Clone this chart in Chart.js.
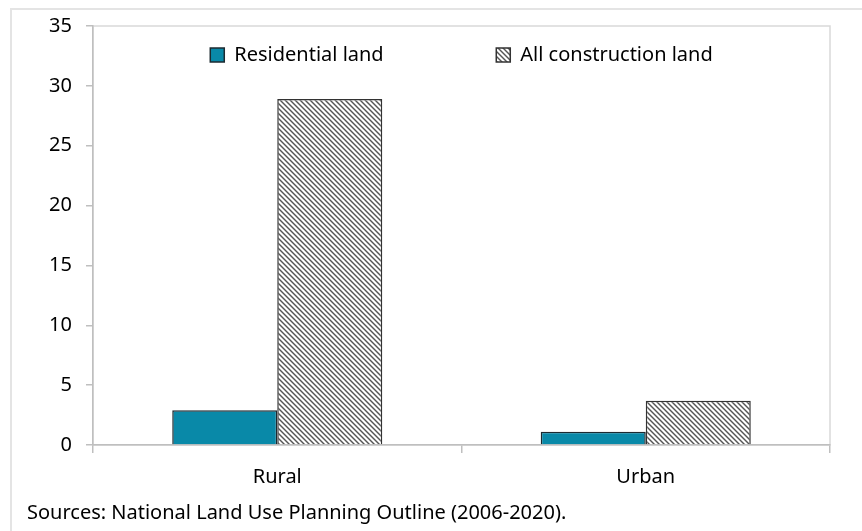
<!DOCTYPE html>
<html>
<head>
<meta charset="utf-8">
<script src="https://cdn.jsdelivr.net/npm/chart.js@4.4.0/dist/chart.umd.min.js"></script>
<style>
  body { margin: 0; background: #fff; }
  #wrap { position: relative; width: 862px; height: 531px; overflow: hidden; }
  #frame { position: absolute; left: 10px; top: 8px; width: 900px; height: 600px;
           border: 2px solid #e4e4e4; box-sizing: border-box; }
  canvas { position: absolute; left: 0; top: 0; }
</style>
</head>
<body>
<div id="wrap">
  <div id="frame"></div>
  <canvas id="chart" width="862" height="531"></canvas>
</div>
<script>
// data
const categories = ['Rural', 'Urban'];
const residential = [2.9, 1.1];
const allConstruction = [28.9, 3.7];
const yTicks = [0, 5, 10, 15, 20, 25, 30, 35];
const seriesNames = ['Residential land', 'All construction land'];
const sourceNote = 'Sources: National Land Use Planning Outline (2006-2020).';

// diagonal hatch for the second series
function makeHatch() {
  const s = 5;
  const c = document.createElement('canvas');
  c.width = s; c.height = s;
  const g = c.getContext('2d');
  g.fillStyle = '#fff';
  g.fillRect(0, 0, s, s);
  g.strokeStyle = '#555';
  g.lineWidth = 1.4;
  for (let k = -1; k <= 1; k++) {
    g.beginPath();
    g.moveTo(-1, k * s - 1);
    g.lineTo(s + 1, s + k * s + 1);
    g.stroke();
  }
  return g.createPattern(c, 'repeat');
}
const hatch = makeHatch();

// light frame round the plot area
const plotBorder = {
  id: 'plotBorder',
  beforeDraw(chart) {
    const { ctx, chartArea: a } = chart;
    ctx.save();
    ctx.strokeStyle = '#d9d9d9';
    ctx.lineWidth = 1.5;
    ctx.strokeRect(a.left, a.top, a.right - a.left, a.bottom - a.top);
    ctx.restore();
  }
};

// legend takes no room in the layout, so it sits inside the top of the plot
const legendInside = {
  id: 'legendInside',
  beforeLayout(chart) {
    const lg = chart.legend;
    if (lg && !lg._inside) {
      const fit = lg.fit.bind(lg);
      lg.fit = function () { fit(); this._realH = this.height; this.height = 0; };
      lg._inside = true;
    }
  },
  afterLayout(chart) {
    const lg = chart.legend;
    if (lg && lg._realH) {
      lg.height = lg._realH;
      lg.bottom = lg.top + lg._realH;
    }
  }
};

Chart.defaults.font.family = "'Noto Sans', sans-serif";
Chart.defaults.font.size = 20;
Chart.defaults.color = '#000';

new Chart(document.getElementById('chart'), {
  type: 'bar',
  data: {
    labels: categories,
    datasets: [
      {
        label: seriesNames[0],
        data: residential,
        backgroundColor: '#0989a8',
        borderColor: '#1c2a30',
        borderWidth: 1.5
      },
      {
        label: seriesNames[1],
        data: allConstruction,
        backgroundColor: hatch,
        borderColor: '#333',
        borderWidth: 1.5
      }
    ]
  },
  options: {
    responsive: false,
    animation: false,
    categoryPercentage: 0.57,
    barPercentage: 1.0,
    layout: { padding: { left: 27, top: 26, right: 32, bottom: 0 } },
    plugins: {
      legend: {
        position: 'top',
        fullSize: false,
        labels: {
          boxWidth: 14,
          boxHeight: 14,
          padding: 19,
          generateLabels(chart) {
            const items = Chart.defaults.plugins.legend.labels.generateLabels(chart);
            items[0].text = items[0].text + ' '.repeat(18);
            return items;
          }
        }
      },
      title: {
        display: true,
        text: sourceNote,
        position: 'bottom',
        align: 'start',
        font: { size: 20, weight: 'normal' },
        padding: { top: 4, bottom: 6 }
      },
      tooltip: { enabled: false }
    },
    scales: {
      x: {
        grid: { offset: true, drawOnChartArea: false, tickLength: 8, color: '#bfbfbf', lineWidth: 1.5 },
        border: { color: '#bfbfbf', width: 1.5 },
        ticks: { padding: 12 },
        afterFit(scale) { scale.height = 52; }
      },
      y: {
        min: 0,
        max: 35,
        afterBuildTicks(scale) { scale.ticks = yTicks.map(v => ({ value: v })); },
        grid: { drawOnChartArea: false, tickLength: 7, color: '#bfbfbf', lineWidth: 1.5 },
        border: { color: '#bfbfbf', width: 1.5 },
        ticks: { padding: 14 },
        afterFit(scale) { scale.width = 66; }
      }
    }
  },
  plugins: [plotBorder, legendInside]
});
</script>
</body>
</html>
